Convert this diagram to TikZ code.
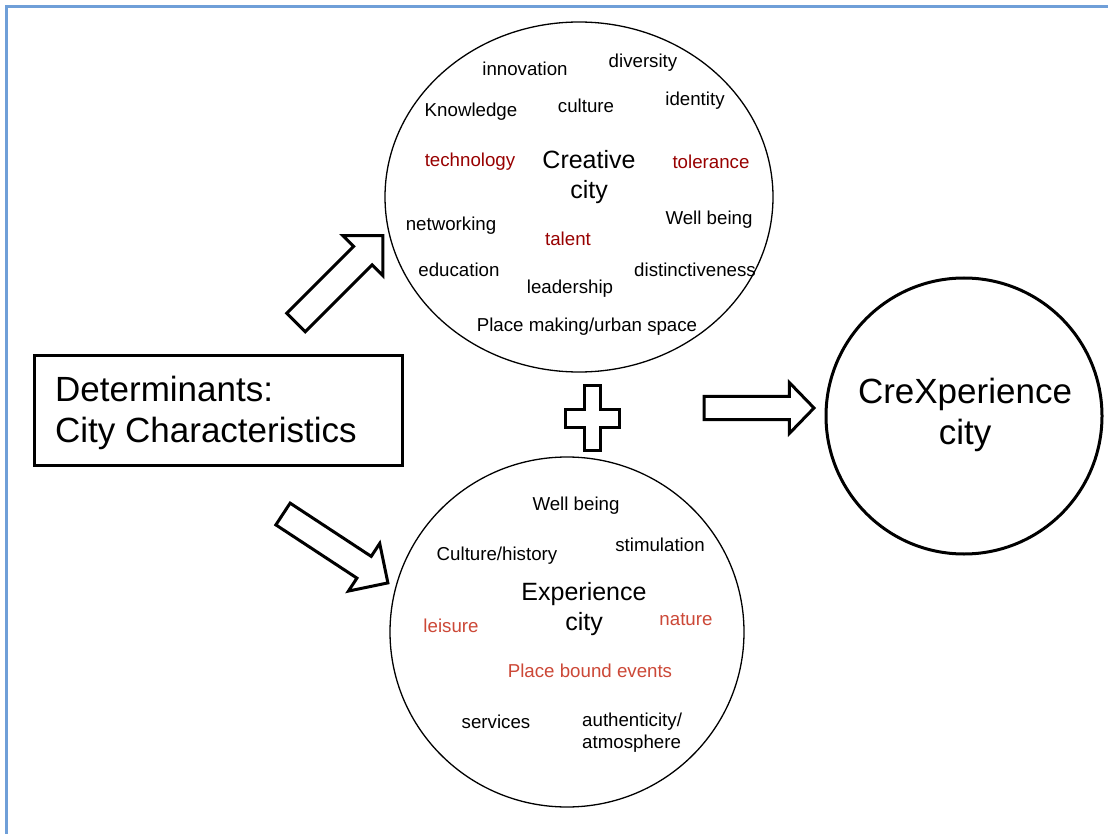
\documentclass[tikz,border=0pt]{standalone}
\usepackage{fontspec}
\setmainfont{Liberation Sans}
\usetikzlibrary{shapes.geometric}
\definecolor{frameblue}{RGB}{111,159,216}
\definecolor{berry}{RGB}{152,0,0}
\definecolor{lightberry}{RGB}{204,72,55}

\tikzset{
  word/.style={inner sep=0pt, yshift=-1.5pt, font=\fontsize{18.7}{22}\selectfont},
  redword/.style={word, text=berry},
  lightword/.style={word, text=lightberry},
  title/.style={inner sep=0pt, yshift=-2pt, align=center, font=\fontsize{25}{30}\selectfont},
  bigtitle/.style={inner sep=0pt, yshift=-2.5pt, align=center, font=\fontsize{35}{41}\selectfont},
  cityellipse/.style={draw, ellipse, line width=1.3pt, inner sep=0pt},
  arrowline/.style={draw, fill=white, line width=3pt, line join=miter},
}

% block arrow: tail centre x, y, angle, length, shaft width, head width, head length
\newcommand\blockarrow[7]{%
  \begin{scope}[shift={(#1,#2)}, rotate=#3]
    \draw[arrowline] (0,-#5/2) -- (#4-#7,-#5/2) -- (#4-#7,-#6/2) -- (#4,0)
      -- (#4-#7,#6/2) -- (#4-#7,#5/2) -- (0,#5/2) -- cycle;
  \end{scope}}

\begin{document}
\begin{tikzpicture}[x=1pt, y=-1pt]
  \useasboundingbox (0,0) rectangle (1108,834);
  \fill[white] (0,0) rectangle (1108,834);
  \draw[frameblue, line width=2.3pt] (6.5,834) -- (6.5,6.5) -- (1108,6.5);

  % the two city circles
  \node[cityellipse, minimum width=388pt, minimum height=350pt] (creative) at (579,197) {};
  \node[cityellipse, minimum width=354pt, minimum height=350pt] (experience) at (567,632) {};
  \node[draw, circle, line width=3pt, minimum size=276pt, inner sep=0pt] (crexp) at (964,416) {};

  % determinants box
  \node[draw, line width=3pt, minimum width=368pt, minimum height=110pt, inner sep=0pt] (determinants) at (218,410) {};
  \node[bigtitle, align=left, anchor=west] (detlabel) at (55,410) {Determinants:\\City Characteristics};

  \node[bigtitle] (crexplabel) at (965,412) {CreXperience\\city};

  % creative city words
  \node[title] (creativelabel) at (589,175) {Creative\\city};
  \node[word] (innovation) at (525,67) {innovation};
  \node[word] (diversity) at (643,61) {diversity};
  \node[word] (knowledge) at (471,110) {Knowledge};
  \node[word] (culture) at (586,104) {culture};
  \node[word] (identity) at (695,99) {identity};
  \node[redword] (technology) at (470,160) {technology};
  \node[redword] (tolerance) at (711,160) {tolerance};
  \node[word] (networking) at (451,224) {networking};
  \node[word] (wellbeingA) at (709,218) {Well being};
  \node[redword] (talent) at (568,237) {talent};
  \node[word] (education) at (459,268) {education};
  \node[word] (distinct) at (695,268) {distinctiveness};
  \node[word] (leadership) at (570,287) {leadership};
  \node[word] (placemaking) at (587,325) {Place making/urban space};

  % experience city words
  \node[title] (experiencelabel) at (584,607) {Experience\\city};
  \node[word] (wellbeingB) at (576,504) {Well being};
  \node[word] (stimulation) at (660,543) {stimulation};
  \node[word] (culturehist) at (497,554) {Culture/history};
  \node[lightword] (leisure) at (451,624) {leisure};
  \node[lightword] (nature) at (686,618) {nature};
  \node[lightword] (events) at (590,669) {Place bound events};
  \node[word] (services) at (496,720) {services};
  \node[word, align=left, anchor=west] (authentic) at (582,731) {authenticity/\\atmosphere};

  % block arrows
  \blockarrow{296}{322.5}{45}{123}{26}{57}{28.5}
  \blockarrow{283}{514}{-33.3}{125.5}{26}{57}{28.5}
  \blockarrow{704}{408}{0}{110}{23.3}{51}{24.7}

  % plus sign
  \draw[arrowline] (584,385) -- (600,385) -- (600,409) -- (619,409) -- (619,427)
    -- (600,427) -- (600,450) -- (584,450) -- (584,427) -- (565,427) -- (565,409)
    -- (584,409) -- cycle;
\end{tikzpicture}
\end{document}
